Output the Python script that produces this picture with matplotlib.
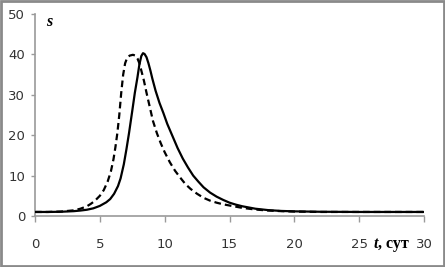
import matplotlib
matplotlib.use("Agg")
import matplotlib.pyplot as plt
from matplotlib.patches import Rectangle

# Data
t_solid = [0, 1, 2, 3, 3.5, 4, 4.5, 5, 5.5, 5.8, 6.1, 6.4, 6.6, 6.85, 7.05, 7.25, 7.5, 7.7,
           7.9, 8.05, 8.2, 8.33, 8.45, 8.6, 8.75, 8.9, 9.05, 9.3, 9.6, 9.9, 10.2, 10.6,
           11.0, 11.4, 11.8, 12.2, 12.6, 13.0, 13.5, 14.0, 14.5, 15.0, 15.5, 16.0, 16.5,
           17.0, 18.0, 19.0, 20.0, 21.0, 22.0, 25.0, 30.0]
s_solid = [1.0, 1.0, 1.05, 1.2, 1.35, 1.55, 1.9, 2.5, 3.4, 4.2, 5.5, 7.4, 9.3, 12.8, 16.5, 20.5, 26.0, 30.5,
           34.3, 37.5, 39.6, 40.3, 40.1, 39.3, 37.8, 36.0, 34.0, 31.0, 28.0, 25.5, 22.8, 19.8,
           16.8, 14.2, 12.0, 10.0, 8.5, 7.1, 5.8, 4.8, 4.0, 3.3, 2.8, 2.4, 2.1,
           1.8, 1.45, 1.25, 1.15, 1.1, 1.05, 1.0, 1.0]

t_dash = [0, 1, 2, 3, 3.5, 4, 4.3, 4.6, 5.0, 5.3, 5.6, 5.85, 6.05, 6.2, 6.35, 6.5, 6.65, 6.8,
          6.95, 7.1, 7.3, 7.55, 7.75, 7.9, 8.05, 8.2, 8.4, 8.6, 8.85, 9.1, 9.4, 9.7,
          10.0, 10.4, 10.8, 11.2, 11.6, 12.0, 12.5, 13.0, 13.5, 14.0, 14.5, 15.0, 16.0,
          17.0, 18.0, 19.0, 20.0, 22.0, 30.0]
s_dash = [1.0, 1.0, 1.1, 1.4, 1.8, 2.4, 3.0, 3.7, 5.0, 6.4, 8.5, 11.0, 14.0, 17.0, 20.5, 25.0, 30.5, 35.0,
          37.8, 39.1, 39.7, 39.9, 39.7, 39.0, 37.8, 36.0, 33.5, 30.5, 27.0, 23.5, 20.5, 18.0,
          15.8, 13.3, 11.2, 9.5, 7.9, 6.7, 5.5, 4.5, 3.8, 3.3, 2.9, 2.6, 2.0,
          1.6, 1.35, 1.2, 1.1, 1.0, 1.0]

x_ticks = [0, 5, 10, 15, 20, 25, 30]
y_ticks = [0, 10, 20, 30, 40, 50]

grey = "#9a9a9a"
label_col = "#333333"

fig = plt.figure(figsize=(4.45, 2.67), dpi=100)
ax = fig.add_axes([35 / 445, 1 - 216 / 267, (424 - 35) / 445, (216 - 14) / 267])

ax.plot(t_solid, s_solid, color="black", lw=1.6, solid_joinstyle="round", zorder=3)
ax.plot(t_dash, s_dash, color="black", lw=1.6, linestyle=(0, (3, 1.8)), zorder=2)

ax.set_xlim(0, 30)
ax.set_ylim(0, 50)
ax.set_xticks(x_ticks)
ax.set_yticks(y_ticks)

for side in ("top", "right"):
    ax.spines[side].set_visible(False)
for side in ("left", "bottom"):
    ax.spines[side].set_color(grey)
    ax.spines[side].set_linewidth(1.2)

tick_font = ["Liberation Sans Narrow", "DejaVu Sans"]
ax.tick_params(axis="x", direction="out", length=4, width=1, color=grey, pad=12,
               labelsize=9.5, labelcolor=label_col)
ax.tick_params(axis="y", direction="out", length=3, width=1, color=grey, pad=4,
               labelsize=9.5, labelcolor=label_col)
for lab in ax.get_xticklabels() + ax.get_yticklabels():
    lab.set_family(tick_font)

# axis names
fig.text(46 / 445, 1 - 22 / 267, "s", family="Liberation Serif", style="italic",
         weight="bold", fontsize=11.5, ha="left", va="center")
t_txt = fig.text(374 / 445, 1 - 244 / 267, "t", family="Liberation Serif", style="italic",
                 weight="bold", fontsize=11.5, ha="left", va="center")
ax.annotate(", сут", xy=(1, 0), xycoords=t_txt, family="Liberation Serif",
            weight="bold", fontsize=11.5, ha="left", va="bottom", annotation_clip=False)

# outer chart border
fig.patches.append(Rectangle((0.002, 0.004), 0.996, 0.992, transform=fig.transFigure,
                             fill=False, edgecolor="#8a8a8a", linewidth=2))

fig.savefig("out.png", dpi=100)
